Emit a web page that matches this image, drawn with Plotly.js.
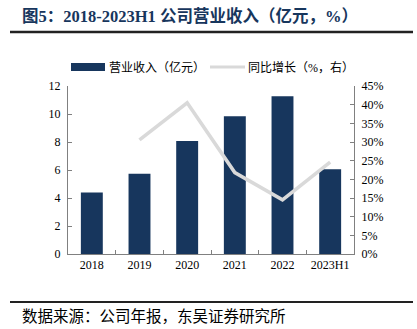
<!DOCTYPE html>
<html>
<head>
<meta charset="utf-8">
<script src="https://cdn.plot.ly/plotly-3.0.1.min.js"></script>
<style>html,body{margin:0;padding:0;background:#fff;}#chart{width:417px;height:329px;}</style>
</head>
<body>
<div id="chart"></div>
<script>
const categories = ["2018", "2019", "2020", "2021", "2022", "2023H1"];
const revenue = [4.4, 5.74, 8.07, 9.84, 11.26, 6.05];
const growth = [null, 30.6, 40.5, 21.8, 14.5, 24.6];
const leftTicks = [0, 2, 4, 6, 8, 10, 12];
const rightTicks = [0, 5, 10, 15, 20, 25, 30, 35, 40, 45];

const serif = '"Times New Roman", "Liberation Serif", "Noto Sans CJK SC", serif';
const cjk = '"Times New Roman", "Liberation Serif", "Noto Sans CJK SC", sans-serif';
const navy = '#17365d';
const lineGrey = '#d9d9d9';

const L = 68, R = 354, T = 86, B = 254;
const px = x => (x - L) / (R - L);
const py = y => (B - y) / (B - T);

const traces = [
  {
    type: 'bar', x: categories, y: revenue, name: '营业收入（亿元）',
    marker: {color: navy}, yaxis: 'y', showlegend: false, hoverinfo: 'skip'
  },
  {
    type: 'scatter', mode: 'lines', x: categories, y: growth, name: '同比增长（%，右）',
    line: {color: lineGrey, width: 3.5}, yaxis: 'y2', showlegend: false, connectgaps: false, hoverinfo: 'skip'
  }
];

const layout = {
  width: 417, height: 329,
  margin: {l: L, r: 417 - R, t: T, b: 329 - B},
  paper_bgcolor: '#fff', plot_bgcolor: '#fff',
  bargap: 0.54,
  font: {family: serif, size: 12, color: '#000'},
  xaxis: {
    type: 'category', tickson: 'boundaries', ticks: 'inside', ticklen: 4, tickcolor: '#808080', tickangle: 0,
    showline: true, linecolor: '#808080', linewidth: 1, showgrid: false, zeroline: false,
    tickfont: {family: serif, size: 12, color: '#000'}, fixedrange: true
  },
  yaxis: {
    range: [0, 12], tickvals: leftTicks, ticktext: leftTicks.map(String), ticks: 'inside', ticklen: 4, tickcolor: '#808080',
    showline: true, linecolor: '#808080', linewidth: 1, showgrid: false, zeroline: false,
    tickfont: {family: serif, size: 12, color: '#000'}, ticklabelstandoff: 4
  },
  yaxis2: {
    overlaying: 'y', side: 'right', range: [0, 45], tickvals: rightTicks, ticktext: rightTicks.map(v => v + '%'),
    ticks: 'inside', ticklen: 4, tickcolor: '#808080',
    showline: true, linecolor: '#808080', linewidth: 1, showgrid: false, zeroline: false,
    tickfont: {family: serif, size: 12, color: '#000'}, ticklabelstandoff: 4
  },
  shapes: [
    {type: 'line', xref: 'paper', yref: 'paper', x0: px(10), x1: px(413), y0: py(32), y1: py(32), line: {color: '#222', width: 2.5}},
    {type: 'line', xref: 'paper', yref: 'paper', x0: px(10), x1: px(413), y0: py(302), y1: py(302), line: {color: '#222', width: 2}},
    {type: 'rect', xref: 'paper', yref: 'paper', x0: px(71), x1: px(105), y0: py(71), y1: py(63), fillcolor: navy, line: {width: 0}},
    {type: 'line', xref: 'paper', yref: 'paper', x0: px(210), x1: px(245), y0: py(67), y1: py(67), line: {color: lineGrey, width: 3}}
  ],
  annotations: [
    {xref: 'paper', yref: 'paper', x: px(20), y: py(17), xanchor: 'left', yanchor: 'middle', showarrow: false,
     text: '<b>图5：2018-2023H1 公司营业收入（亿元，%）</b>', font: {family: cjk, size: 16.5, color: navy}},
    {xref: 'paper', yref: 'paper', x: px(107), y: py(67), xanchor: 'left', yanchor: 'middle', showarrow: false,
     text: '营业收入（亿元）', font: {family: cjk, size: 12, color: '#000'}},
    {xref: 'paper', yref: 'paper', x: px(246), y: py(67), xanchor: 'left', yanchor: 'middle', showarrow: false,
     text: '同比增长（%，右）', font: {family: cjk, size: 12, color: '#000'}},
    {xref: 'paper', yref: 'paper', x: px(20), y: py(316), xanchor: 'left', yanchor: 'middle', showarrow: false,
     text: '数据来源：公司年报，东吴证券研究所', font: {family: cjk, size: 15.5, color: '#000'}}
  ]
};

Plotly.newPlot('chart', traces, layout, {staticPlot: true, displayModeBar: false});
</script>
</body>
</html>
